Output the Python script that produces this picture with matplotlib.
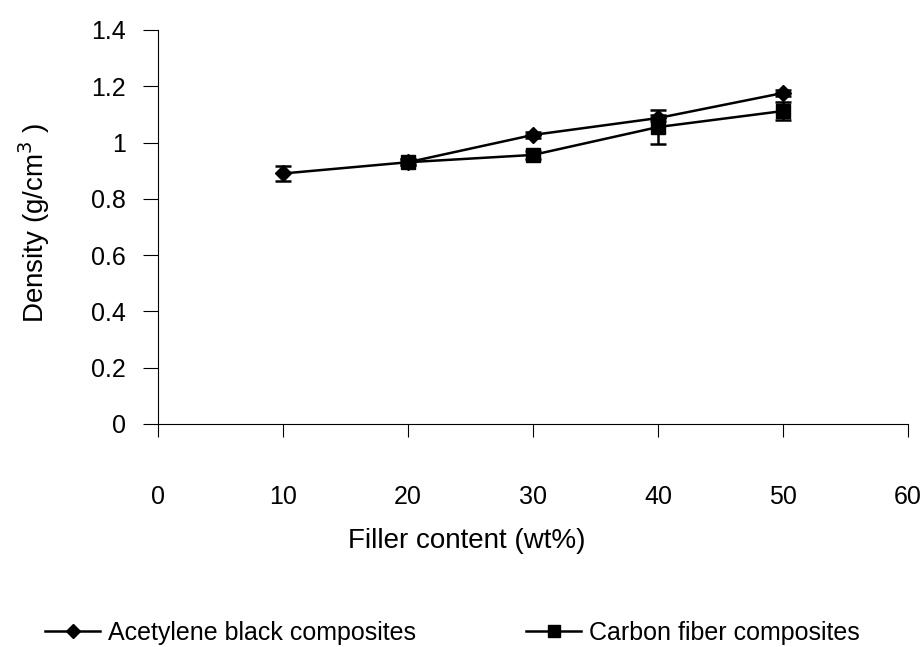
import numpy as np
import matplotlib.pyplot as plt
from matplotlib.lines import Line2D

plt.rcParams['font.family'] = ['Liberation Sans', 'DejaVu Sans']

filler = [10, 20, 30, 40, 50]
ab_density = [0.89, 0.93, 1.027, 1.087, 1.176]
ab_err = [0.025, 0.01, 0.01, 0.01, 0.01]

cf_filler = [20, 30, 40, 50]
cf_density = [0.93, 0.956, 1.055, 1.112]
cf_err = [0.01, 0.015, 0.06, 0.032]

x_ticks = [0, 10, 20, 30, 40, 50, 60]
y_ticks = [0, 0.2, 0.4, 0.6, 0.8, 1.0, 1.2, 1.4]
y_labels = ['0', '0.2', '0.4', '0.6', '0.8', '1', '1.2', '1.4']

fig = plt.figure(figsize=(9.23, 6.47), dpi=100)
ax = fig.add_axes([0.1712, 0.3447, 0.8126, 0.609])

ax.errorbar(filler, ab_density, yerr=ab_err, color='black', marker='D',
            markersize=8, lw=1.8, capsize=5.5, capthick=1.8, elinewidth=1.8)
ax.errorbar(cf_filler, cf_density, yerr=cf_err, color='black', marker='s',
            markersize=10.5, lw=1.8, capsize=5.5, capthick=1.8, elinewidth=1.8)

ax.set_xlim(0, 60)
ax.set_ylim(0, 1.4)
ax.set_xticks(x_ticks)
ax.set_yticks(y_ticks)
ax.set_yticklabels(y_labels)
ax.spines['top'].set_visible(False)
ax.spines['right'].set_visible(False)
ax.tick_params(axis='y', direction='out', length=11, width=0.8, pad=12, labelsize=18)
ax.tick_params(axis='x', direction='out', length=9, width=0.8, pad=35, labelsize=18)

ax.set_xlabel('Filler content (wt%)', fontsize=20)
ax.set_ylabel('Density (g/cm$^3$ )', fontsize=20)
ax.xaxis.set_label_coords(0.412, -0.265)
ax.yaxis.set_label_coords(-0.142, 0.51)

handles = [Line2D([], [], color='black', marker='D', markersize=7, lw=1.8),
           Line2D([], [], color='black', marker='s', markersize=9, lw=1.8)]
fig.legend(handles, ['Acetylene black composites', 'Carbon fiber composites'],
           loc='center left', bbox_to_anchor=(0.0488, 0.022), ncol=2, frameon=False,
           fontsize=18, handlelength=2.2, handletextpad=0.32, columnspacing=4.4,
           borderpad=0, borderaxespad=0)

fig.savefig('out.png', dpi=100)
